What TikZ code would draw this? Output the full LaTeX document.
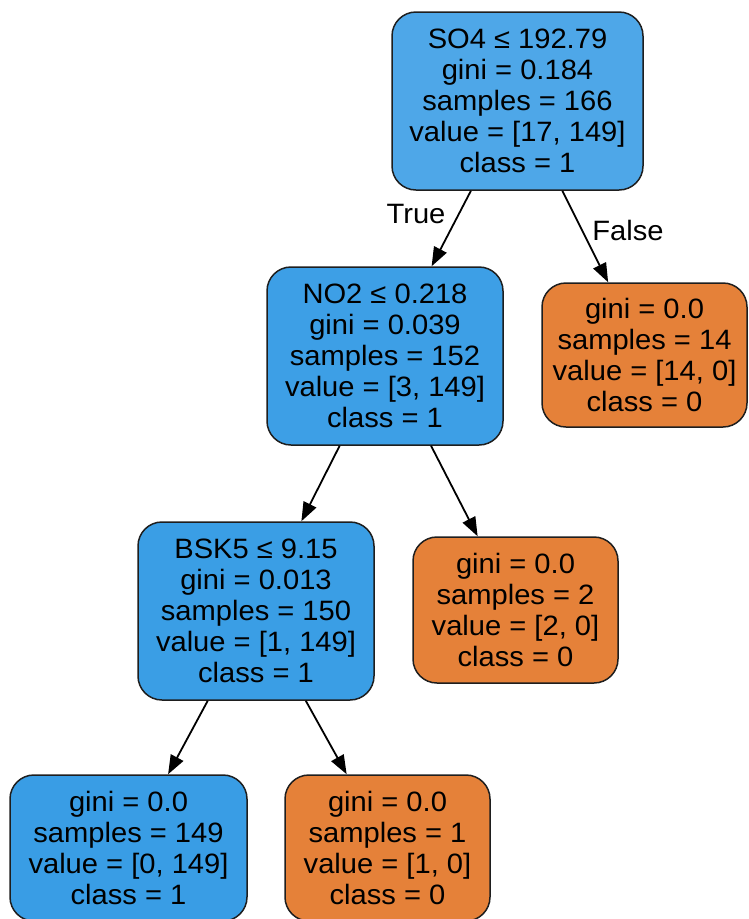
\documentclass[tikz,border=0pt]{standalone}
\usepackage{fontspec}
\setmainfont{Liberation Sans}[FakeStretch=1.04]
\usetikzlibrary{arrows.meta}
\definecolor{bluefull}{HTML}{399DE5}
\definecolor{blueroot}{HTML}{4EA7E8}
\definecolor{blueno}{HTML}{3D9FE6}
\definecolor{bluebsk}{HTML}{3A9EE5}
\definecolor{orangefull}{HTML}{E58139}
\definecolor{edgeline}{HTML}{1E1E1E}
\tikzset{
  treenode/.style={draw=edgeline, line width=1.5pt, rounded corners=24pt,
    align=center, inner sep=0pt, text=black,
    font=\fontsize{28}{31}\selectfont},
  arr/.style={draw=black, line width=1.8pt, -{Triangle[length=19pt,width=14pt]}},
  edgelab/.style={font=\fontsize{28}{31}\selectfont, text=black, inner sep=0pt}
}
\begin{document}
\begin{tikzpicture}[x=1pt,y=-1pt]
\useasboundingbox (0,0) rectangle (748,919);
\node[treenode, fill=blueroot, minimum width=251pt, minimum height=178pt] (root) at (517.5,101)
  {SO4 ≤ 192.79\\gini = 0.184\\samples = 166\\value = [17, 149]\\class = 1};
\node[treenode, fill=blueno, minimum width=236pt, minimum height=178pt] (no2) at (385,356)
  {NO2 ≤ 0.218\\gini = 0.039\\samples = 152\\value = [3, 149]\\class = 1};
\node[treenode, fill=orangefull, minimum width=205pt, minimum height=144pt] (f1) at (644.5,355)
  {gini = 0.0\\samples = 14\\value = [14, 0]\\class = 0};
\node[treenode, fill=bluebsk, minimum width=236pt, minimum height=178pt] (bsk) at (256,611)
  {BSK5 ≤ 9.15\\gini = 0.013\\samples = 150\\value = [1, 149]\\class = 1};
\node[treenode, fill=orangefull, minimum width=205pt, minimum height=146pt] (l2) at (515.5,610)
  {gini = 0.0\\samples = 2\\value = [2, 0]\\class = 0};
\node[treenode, fill=bluefull, minimum width=237pt, minimum height=146pt] (l149) at (128.5,848)
  {gini = 0.0\\samples = 149\\value = [0, 149]\\class = 1};
\node[treenode, fill=orangefull, minimum width=205pt, minimum height=146pt] (l1) at (387.5,848)
  {gini = 0.0\\samples = 1\\value = [1, 0]\\class = 0};
\draw[arr] (root) -- (no2);
\draw[arr] (root) -- (f1);
\draw[arr] (no2) -- (bsk);
\draw[arr] (no2) -- (l2);
\draw[arr] (bsk) -- (l149);
\draw[arr] (bsk) -- (l1);
\node[edgelab] (tlab) at (416,214) {True};
\node[edgelab] (flab) at (628,230) {False};
\end{tikzpicture}
\end{document}
